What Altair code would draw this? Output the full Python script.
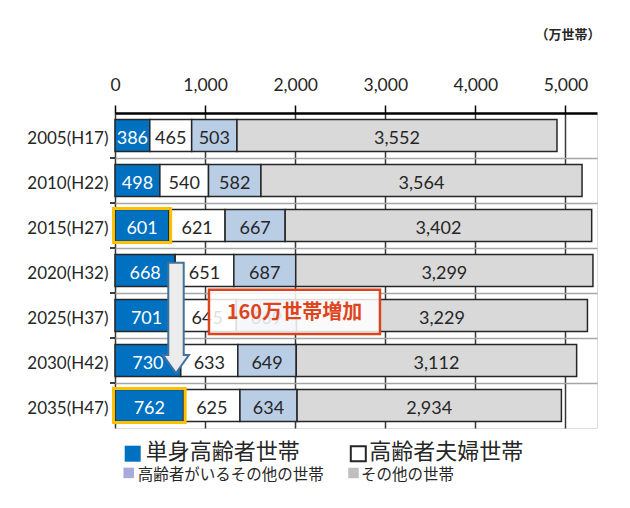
import altair as alt
import pandas as pd

# ---------------- data ----------------
years = ["2005(H17)", "2010(H22)", "2015(H27)", "2020(H32)", "2025(H37)", "2030(H42)", "2035(H47)"]
categories = ["単身高齢者世帯", "高齢者夫婦世帯", "高齢者がいるその他の世帯", "その他の世帯"]
single = [386, 498, 601, 668, 701, 730, 762]
couple = [465, 540, 621, 651, 645, 633, 625]
elderly_other = [503, 582, 667, 687, 669, 649, 634]
other = [3552, 3564, 3402, 3299, 3229, 3112, 2934]
x_ticks = [0, 1000, 2000, 3000, 4000, 5000]
unit_label = "（万世帯）"
highlight_years = ["2015(H27)", "2035(H47)"]
arrow_from, arrow_to = "2020(H32)", "2030(H42)"
increase_label = "160万世帯増加"

# ---------------- styles ----------------
bar_colors = ["#0070C0", "#FFFFFF", "#B9CDE5", "#D9D9D9"]
legend_colors = ["#0070C0", "#FFFFFF", "#A9A9DC", "#BFBFBF"]
text_colors = ["#FFFFFF", "#262626", "#262626", "#262626"]
INK = "#262626"
W, H = 482, 315
XMAX = 5350

series = [single, couple, elderly_other, other]
rows = []
for i, y in enumerate(years):
    for k, (cat, vals) in enumerate(zip(categories, series)):
        rows.append({"year": y, "row": i, "cat": cat, "order": k,
                     "value": vals[i], "tcolor": text_colors[k]})
df = pd.DataFrame(rows)

xscale = alt.Scale(domain=[0, XMAX], nice=False, zero=True)
xaxis = alt.Axis(orient="top", values=x_ticks, labelExpr="format(datum.value, ',')",
                 title=unit_label,
                 titleX=W + 3, titleY=-79, titleAlign="right", titleBaseline="middle",
                 titleFont="Noto Sans CJK JP", titleFontSize=13, titleFontWeight="bold",
                 titleColor=INK, labelFont="Lato", labelFontSize=17.5, labelColor=INK,
                 labelPadding=11, tickSize=8, tickColor="#000000", tickWidth=1.5,
                 domainColor="#000000", domainWidth=2.5, grid=True,
                 gridColor="#3A3A3A", gridWidth=1.5, labelFlush=False)


def X(field, **kw):
    return alt.X(field, type="quantitative", scale=xscale, axis=xaxis, **kw)


yband = alt.Y("year:N", sort=years,
              scale=alt.Scale(paddingInner=0.29, paddingOuter=0.145),
              axis=alt.Axis(title=None, labelFont="Lato", labelFontSize=17, labelColor=INK,
                            labelPadding=7, labelOffset=3, ticks=False, domain=False,
                            grid=False))

base = alt.Chart(df).transform_stack(
    stack="value", groupby=["year"], as_=["x0", "x1"],
    sort=[alt.SortField(field="order", order="ascending")]
).transform_calculate(xm="(datum.x0 + datum.x1) / 2")

bars = base.mark_bar(stroke=INK, strokeWidth=1.5).encode(
    x=X("x0"), x2="x1", y=yband,
    color=alt.Color("cat:N", scale=alt.Scale(domain=categories, range=bar_colors), legend=None),
)
seg_text = base.mark_text(font="Lato", fontSize=18, baseline="middle", dy=3).encode(
    x=X("xm"), y=yband, text=alt.Text("value:Q", format=","),
    color=alt.Color("tcolor:N", scale=None),
)
bar_layer = alt.layer(bars, seg_text)

# ---------------- overlay (row coordinates) ----------------
NR = len(years)
yrow_scale = alt.Scale(domain=[0, NR], reverse=True, nice=False, zero=False)
yrow_axis = alt.Axis(orient="right", values=list(range(1, NR)), grid=True,
                     gridColor="#A6A6A6", gridWidth=1.5, labels=False, ticks=False,
                     domain=False, title=None)


def Y(field):
    return alt.Y(field, type="quantitative", scale=yrow_scale, axis=yrow_axis)


# category boundary ticks on the left edge
bound_df = pd.DataFrame({"b": list(range(1, NR))})
bound_ticks = alt.Chart(bound_df).mark_rule(color="#000000", strokeWidth=1.5).encode(
    y=Y("b"), x=alt.value(-5), x2=alt.value(0))

# orange highlight frames around single-elderly bars
hi_rows = [years.index(y) for y in highlight_years]
frame_df = pd.DataFrame({"top": [r + 0.12 for r in hi_rows],
                         "bot": [r + 0.88 for r in hi_rows],
                         "start": [0 for r in hi_rows],
                         "end": [single[r] for r in hi_rows]})
frames = alt.Chart(frame_df).mark_rect(fillOpacity=0, stroke="#FFC000", strokeWidth=3,
                                        xOffset=-1.5, x2Offset=1.5).encode(
    x=X("start"), x2="end", y=Y("top"), y2="bot")

# downward arrow (custom symbol), centred between its start and tip
r_from, r_to = years.index(arrow_from), years.index(arrow_to)
arrow_top, arrow_tip = r_from + 0.33, r_to + 0.78
arrow_df = pd.DataFrame({"ax": [677], "ay": [(arrow_top + arrow_tip) / 2]})
arrow_len_px = (arrow_tip - arrow_top) * H / NR
arrow_path = ("M-0.14,-1 L0.14,-1 L0.14,0.673 L0.235,0.673 L0,1 "
              "L-0.235,0.673 L-0.14,0.673 Z")
arrow = alt.Chart(arrow_df).mark_point(
    shape=arrow_path, size=arrow_len_px ** 2, filled=True, fill="#ECECEC",
    stroke="#41719C", strokeWidth=2, opacity=1, fillOpacity=1, strokeOpacity=1
).encode(x=X("ax"), y=Y("ay"))

# annotation box
r_box = years.index("2025(H37)")
box_df = pd.DataFrame({"bx0": [1043], "bx1": [2941], "by0": [r_box - 0.07],
                       "by1": [r_box + 0.91], "bxc": [1992], "byc": [r_box + 0.44],
                       "t": [increase_label]})
box = alt.Chart(box_df).mark_rect(fill="#FFFFFF", fillOpacity=0.85, stroke="#D9461E",
                                  strokeWidth=2.5).encode(
    x=X("bx0"), x2="bx1", y=Y("by0"), y2="by1")
box_text = alt.Chart(box_df).mark_text(font="Noto Sans CJK JP", fontSize=20, fontWeight="bold",
                                       color="#E0441C", baseline="middle", align="center").encode(
    x=X("bxc"), y=Y("byc"), text="t:N")

# custom legend: (square x, square y, square side, text x, text y, font size)
legend_pos = [(17.7, 340.7, 16, 30.7, 339, 22),
              (243.3, 340.7, 15, 254.3, 339, 22),
              (13.7, 359.9, 10.5, 22.7, 362, 15.5),
              (238.5, 360.0, 10.5, 246.0, 362, 15.5)]
legend_strokes = [None, INK, None, None]
legend_layers = []
for cat, col, stk, (sx, sy, side, tx, ty, fs) in zip(categories, legend_colors,
                                                     legend_strokes, legend_pos):
    d = pd.DataFrame({"t": [cat]})
    sq_kw = dict(shape="square", size=side ** 2, filled=True, fill=col, opacity=1)
    if stk:
        sq_kw.update(stroke=stk, strokeWidth=2)
    else:
        sq_kw.update(strokeWidth=0)
    legend_layers.append(alt.Chart(d).mark_point(**sq_kw).encode(
        x=alt.value(sx), y=alt.value(sy)))
    legend_layers.append(alt.Chart(d).mark_text(
        font="Noto Sans CJK JP", fontSize=fs, align="left", baseline="middle", color=INK
    ).encode(x=alt.value(tx), y=alt.value(ty), text="t:N"))

overlay = alt.layer(bound_ticks, frames, arrow, box, box_text, *legend_layers)

chart = alt.layer(bar_layer, overlay).resolve_scale(y="independent").properties(
    width=W, height=H,
    autosize=alt.AutoSizeParams(type="none"),
    padding={"left": 107, "top": 105, "right": 25, "bottom": 75},
).configure_view(stroke="#262626", strokeWidth=2).configure(background="#FFFFFF")

chart.save("out.html", embed_options={"renderer": "svg", "actions": False})
